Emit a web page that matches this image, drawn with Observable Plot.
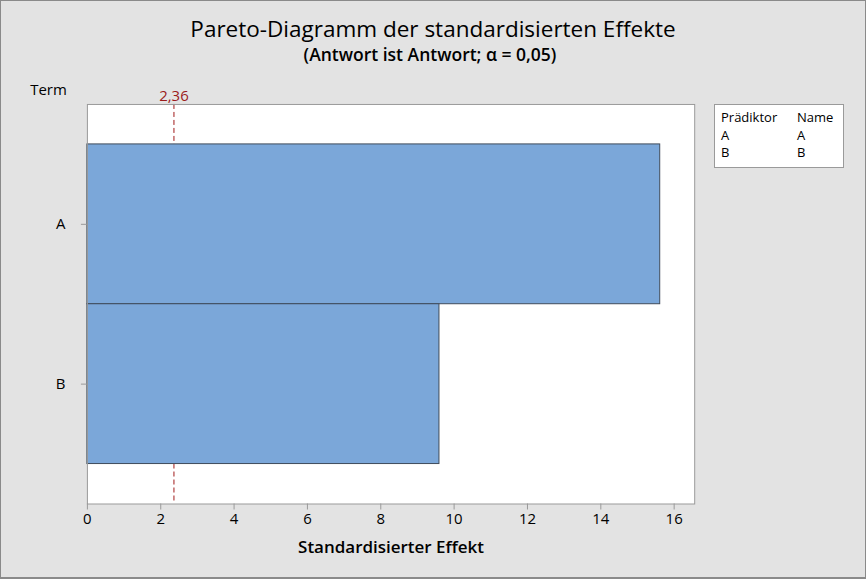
<!DOCTYPE html>
<html>
<head>
<meta charset="utf-8">
<script src="https://cdn.jsdelivr.net/npm/d3@7"></script>
<script src="https://cdn.jsdelivr.net/npm/@observablehq/plot@0.6"></script>
<style>
  html, body { margin: 0; padding: 0; background: #e3e3e3; }
  #wrap { position: relative; width: 866px; height: 579px; background: #e3e3e3; box-sizing: border-box; border: 1px solid #8a8a8a; border-bottom-width: 2px; overflow: hidden; font-family: "Open Sans", sans-serif; color: #000; }
  #titles { height: 69px; text-align: center; }
  #title { padding-top: 14px; font-size: 22.5px; line-height: 28px; }
  #subtitle { font-size: 17.5px; font-weight: 600; line-height: 22px; margin-left: -6px; }
  #chart { position: absolute; left: -1px; top: 69px; }
  #legend { position: absolute; left: 713px; top: 103px; width: 130px; height: 64px; box-sizing: border-box; background: #fff; border: 1px solid #9a9a9a; font-size: 13px; line-height: 17.5px; padding: 4px 0 0 6px; }
  #legend table { border-collapse: collapse; }
  #legend td { padding: 0; }
  #legend td.c1 { width: 76px; }
</style>
</head>
<body>
<div id="wrap">
  <div id="titles">
    <div id="title"></div>
    <div id="subtitle"></div>
  </div>
  <div id="chart"></div>
  <div id="legend"></div>
</div>
<script>
const titleText = "Pareto-Diagramm der standardisierten Effekte";
const subtitleText = "(Antwort ist Antwort; α = 0,05)";
const terms = ["A", "B"];
const effects = [15.62, 9.6];
const critical = [2.36];
const xTicks = [0, 2, 4, 6, 8, 10, 12, 14, 16];
const xMax = 16.56;
const xLabel = "Standardisierter Effekt";
const yLabel = "Term";
const legendHeader = ["Prädiktor", "Name"];
const legendPredictors = ["A", "B"];
const legendNames = ["A", "B"];

document.getElementById("title").textContent = titleText;
document.getElementById("subtitle").textContent = subtitleText;

const data = terms.map((t, i) => ({term: t, effect: effects[i]}));
const fmt = d => d.toLocaleString("de-DE");

const chart = Plot.plot({
  width: 866,
  height: 509,
  marginTop: 34,
  marginBottom: 75,
  marginLeft: 87,
  marginRight: 171,
  style: {background: "transparent", fontFamily: "Open Sans, sans-serif", fontSize: "15px", color: "#000", overflow: "visible"},
  x: {domain: [0, xMax]},
  y: {domain: terms, paddingInner: 0, paddingOuter: 0.25},
  marks: [
    Plot.frame({fill: "white", stroke: null}),
    Plot.ruleX(critical, {x: d => d, stroke: "#a01818", strokeWidth: 1, strokeDasharray: "5,3"}),
    Plot.barX(data, {x: "effect", y: "term", fill: "#7BA7D9", stroke: "#3F4B5B", strokeWidth: 1}),
    Plot.frame({stroke: "#9a9a9a"}),
    Plot.axisX({ticks: xTicks, tickSize: 6, tickPadding: 3, stroke: "#9a9a9a", fill: "#000", fontSize: 15, label: null}),
    Plot.axisY({tickSize: 6, tickPadding: 16, stroke: "#9a9a9a", fill: "#000", fontSize: 15, label: null}),
    Plot.text(critical, {x: d => d, frameAnchor: "top", dy: -3, lineAnchor: "bottom", text: fmt, fill: "#9b1b1b", fontSize: 15}),
    Plot.text([yLabel], {frameAnchor: "top-left", dx: -39, dy: -20, text: d => d, fontSize: 15, textAnchor: "middle"}),
    Plot.text([xLabel], {frameAnchor: "bottom", dy: 49, text: d => d, fontSize: 17, fontWeight: 600})
  ]
});
document.getElementById("chart").appendChild(chart);

const rows = [legendHeader].concat(legendPredictors.map((p, i) => [p, legendNames[i]]));
const table = d3.select("#legend").append("table");
table.selectAll("tr").data(rows).join("tr")
  .selectAll("td").data(r => r).join("td")
  .attr("class", (d, i) => i === 0 ? "c1" : "c2")
  .text(d => d);
</script>
</body>
</html>
